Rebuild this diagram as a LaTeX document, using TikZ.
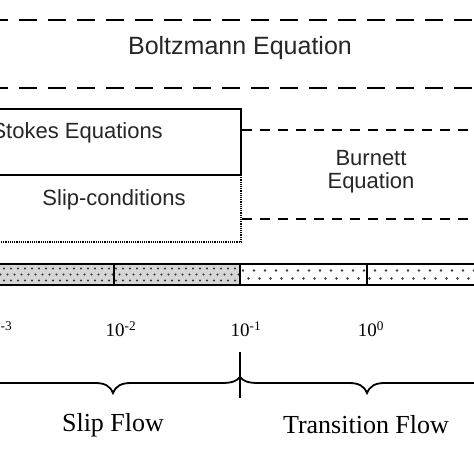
\documentclass[tikz,border=0pt]{standalone}
\usepackage{fontspec}
\setmainfont{Liberation Serif}
\newfontfamily\sansf{Liberation Sans}
\begin{document}
\begin{tikzpicture}[x=1pt,y=-1pt,
  bigdash/.style={line width=2.4pt, dash pattern=on 18pt off 11pt},
  smalldash/.style={line width=2.2pt, dash pattern=on 10pt off 8pt},
  dotline/.style={line width=2pt, dash pattern=on 1.2pt off 1pt},
  solidline/.style={line width=2.2pt},
  sanslabel/.style={font=\sansf\fontsize{22}{23}\selectfont, text=black!85, inner sep=0pt},
  bigsans/.style={font=\sansf\fontsize{25}{28}\selectfont, text=black!85, inner sep=0pt},
  seriflabel/.style={font=\fontsize{26}{30}\selectfont, inner sep=0pt},
  ticklabel/.style={font=\fontsize{19}{22}\selectfont, inner sep=0pt},
  dotdense/.style={fill=black!80},
]
\useasboundingbox (0,0) rectangle (474,474);
\fill[white] (0,0) rectangle (474,474);

% Boltzmann region
\draw[bigdash] (-10,20) -- (480,20);
\draw[bigdash] (-10,88) -- (480,88);
\node[bigsans] (boltz) at (240,48) {Boltzmann Equation};

% Navier-Stokes box
\draw[solidline] (-5,109) -- (241,109) -- (241,175) -- (-5,175);
\node[sanslabel, anchor=east] (ns) at (163,133) {Navier-Stokes Equations};
\node[sanslabel] (slip) at (114,200) {Slip-conditions};
\draw[dotline] (241,175) -- (241,242) -- (-5,242);

% Burnett
\draw[smalldash] (242,130) -- (480,130);
\draw[smalldash] (242,219) -- (480,219);
\node[sanslabel, align=center] (burnett) at (371,172) {Burnett\\Equation};

% Bar with dot fills
\fill[black!16] (-5,264) rectangle (240,285);
\begin{scope}
  \clip (-5,265) rectangle (240,284);
  \foreach \r/\yy in {0/268.5,1/274.5,2/280.5} {
    \foreach \i in {0,...,36} {
      \fill[dotdense] ({-3+7*\i+3.5*mod(\r,2)},\yy) circle (1.15pt);
    }
  }
\end{scope}
\begin{scope}
  \clip (240,265) rectangle (480,284);
  \foreach \r/\yy in {0/270.5,1/278.5} {
    \foreach \i in {0,...,22} {
      \fill[black!75] ({243+11*\i+5.5*\r},\yy) circle (1.3pt);
    }
  }
\end{scope}
\draw[solidline] (-5,264) rectangle (480,285);
\draw[solidline] (114,264) -- (114,285);
\draw[solidline] (240,264) -- (240,285);
\draw[solidline] (367,264) -- (367,285);

% Knudsen labels
\node[ticklabel] (k3) at (-3,329) {10\textsuperscript{-3}};
\node[ticklabel] (k2) at (121,329) {10\textsuperscript{-2}};
\node[ticklabel] (k1) at (246,329) {10\textsuperscript{-1}};
\node[ticklabel] (k0) at (371,329) {10\textsuperscript{0}};

% Braces
\draw[line width=1.8pt] (-5,383) -- (95,383) .. controls (105,383) and (110,386) .. (113,393)
  .. controls (116,386) and (121,383) .. (131,383) -- (222,383)
  .. controls (232,383) and (237,381) .. (240,377)
  .. controls (243,381) and (248,383) .. (258,383) -- (349,383)
  .. controls (359,383) and (364,386) .. (367,393)
  .. controls (370,386) and (375,383) .. (385,383) -- (480,383);
\draw[line width=1.8pt] (240,352) -- (240,398);

\node[seriflabel] (slipflow) at (113,425) {Slip Flow};
\node[seriflabel] (transflow) at (366,425) {Transition Flow};
\end{tikzpicture}
\end{document}
